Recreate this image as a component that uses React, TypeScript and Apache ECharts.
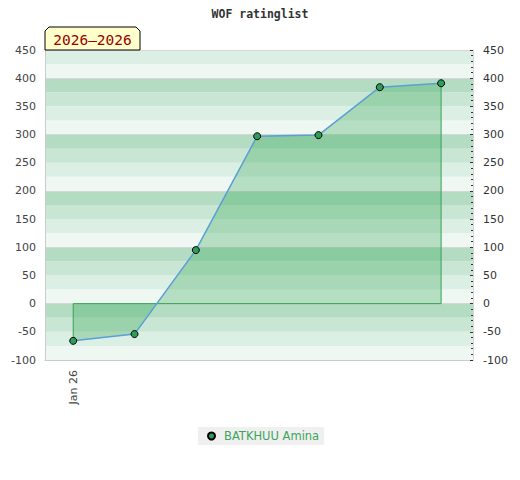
import React, { useEffect, useRef } from "react";
import * as echarts from "echarts";

const seriesName = "BATKHUU Amina";
const pointIndex = [0, 1, 2, 3, 4, 5, 6];
const ratings = [-66, -54, 95, 297, 299, 384, 391];
const xLabels = ["Jan 26"];
const xLabelAt = [0];
const titleText = "WOF ratinglist";
const tagText = "2026–2026";
const bandColors = ["#eff7f3", "#dcefe4", "#c8e6d3", "#b3dcc3"];

export default function App() {
  const ref = useRef<HTMLDivElement>(null);
  useEffect(() => {
    if (!ref.current) return;
    const chart = echarts.init(ref.current, null, { renderer: "svg" });
    const data = pointIndex.map((x, i) => [x, ratings[i]]);
    const first = pointIndex[0];
    const last = pointIndex[pointIndex.length - 1];
    const outline = [
      [first, ratings[0]],
      [first, 0],
      [last, 0],
      [last, ratings[ratings.length - 1]],
    ];
    const yBase = {
      min: -100,
      max: 450,
    };
    chart.setOption({
      animation: false,
      title: {
        text: titleText,
        left: "center",
        top: 3,
        textStyle: {
          fontFamily: "DejaVu Sans Mono",
          fontSize: 11.5,
          fontWeight: "bold",
          color: "#333",
        },
      },
      grid: { left: 45, right: 47, top: 50, bottom: 120 },
      legend: {
        bottom: 35,
        left: 198,
        icon: "circle",
        itemWidth: 7,
        itemHeight: 7,
        itemGap: 6,
        backgroundColor: "#f0f0f0",
        padding: [3, 5, 3, 9],
        textStyle: {
          color: "#3aa55a",
          fontFamily: "DejaVu Sans",
          fontSize: 11.5,
          padding: [0, 0, 0, 4],
        },
        data: [seriesName],
      },
      xAxis: {
        type: "value",
        min: -0.46,
        max: 6.52,
        axisLine: { show: true, onZero: false, lineStyle: { color: "#cccccc" } },
        axisTick: { show: false },
        splitLine: { show: false },
        axisLabel: {
          customValues: xLabelAt,
          rotate: 90,
          margin: 10,
          color: "#444",
          fontFamily: "DejaVu Sans",
          fontSize: 11,
          formatter: (v: number) => xLabels[xLabelAt.indexOf(Math.round(v))] ?? "",
        },
      },
      yAxis: [
        {
          ...yBase,
          type: "value",
          position: "left",
          interval: 50,
          axisLine: { show: true, onZero: false, lineStyle: { color: "#cccccc" } },
          axisTick: { show: false },
          splitLine: { show: false },
          axisLabel: { color: "#444", fontFamily: "DejaVu Sans", fontSize: 11, margin: 9 },
        },
        {
          ...yBase,
          type: "value",
          position: "right",
          interval: 50,
          axisLine: { show: true, onZero: false, lineStyle: { color: "#d8d8d8" } },
          axisTick: { show: true, inside: true, length: 3, lineStyle: { color: "#333" } },
          minorTick: { show: true, splitNumber: 5, length: 2, lineStyle: { color: "#333" } },
          splitLine: { show: false },
          axisLabel: { color: "#333", fontFamily: "DejaVu Sans", fontSize: 11, margin: 10 },
        },
        {
          ...yBase,
          type: "value",
          position: "left",
          interval: 25,
          axisLine: { show: false, onZero: false },
          axisTick: { show: false },
          axisLabel: { show: false },
          splitLine: { show: false },
          splitArea: { show: true, areaStyle: { color: bandColors } },
        },
        {
          ...yBase,
          type: "value",
          position: "left",
          interval: 100,
          axisLine: { show: false, onZero: false },
          axisTick: { show: false },
          axisLabel: { show: false },
          splitLine: { show: true, lineStyle: { color: "#d6d6d6", width: 1 } },
        },
      ],
      series: [
        {
          name: seriesName,
          type: "line",
          yAxisIndex: 0,
          data,
          symbol: "circle",
          symbolSize: 7,
          z: 3,
          lineStyle: { color: "#5a9fd6", width: 1.5 },
          itemStyle: { color: "#2e9d5b", borderColor: "#000", borderWidth: 1 },
          areaStyle: { color: "rgba(40,160,72,0.41)", origin: 0 },
        },
        {
          name: "outline",
          type: "line",
          yAxisIndex: 0,
          data: outline,
          symbol: "none",
          silent: true,
          z: 2,
          lineStyle: { color: "#3aa55a", width: 1 },
        },
      ],
      graphic: [
        {
          type: "polygon",
          shape: {
            points: [
              [45, 50],
              [45, 31],
              [49, 27],
              [136, 27],
              [140, 31],
              [140, 50],
            ],
          },
          style: { fill: "#ffffcc", stroke: "#000", lineWidth: 1 },
          z: 100,
        },
        {
          type: "text",
          x: 92.5,
          y: 39.5,
          style: {
            text: tagText,
            fill: "#990000",
            font: "14.5px 'DejaVu Sans Mono'",
            align: "center",
            verticalAlign: "middle",
          },
          z: 101,
        },
      ],
    });
    return () => chart.dispose();
  }, []);
  return <div ref={ref} style={{ width: 520, height: 480, margin: -8 }} />;
}
